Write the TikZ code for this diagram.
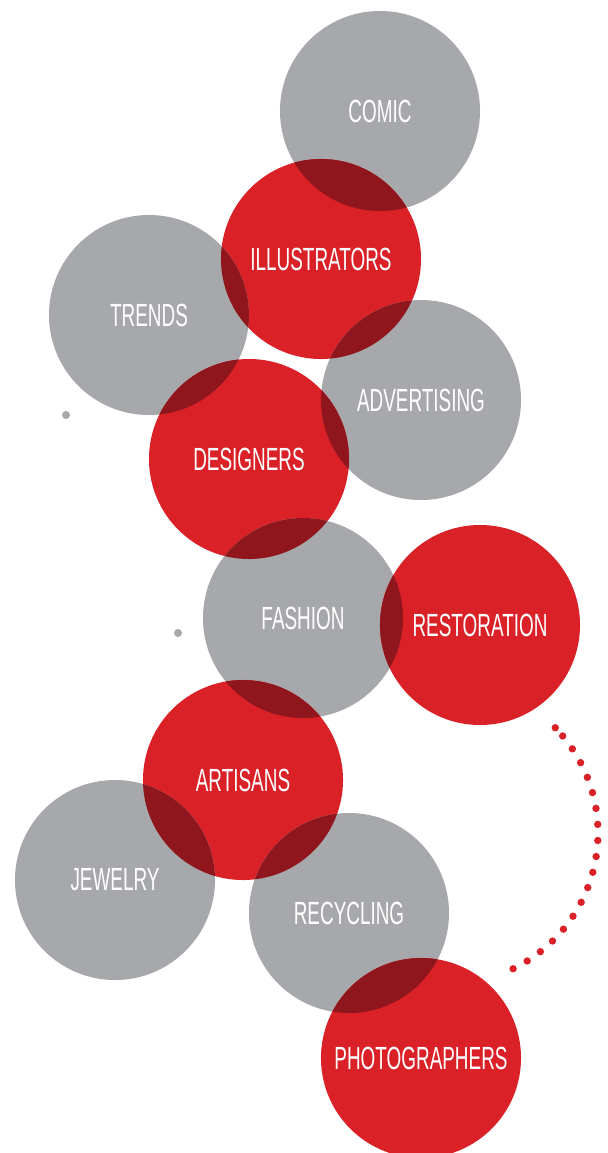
\documentclass[tikz,border=0pt]{standalone}
\usepackage{fontspec}
\setmainfont{Liberation Sans}[FakeStretch=0.59]

\definecolor{ballgray}{HTML}{A7A8AB}
\definecolor{ballred}{HTML}{DA2128}
\definecolor{ballmix}{HTML}{8F161C}

\newcommand{\mixballs}[2]{%
  \begin{scope}
    \clip (#1.center) circle (2.5cm);
    \fill[ballmix] (#2.center) circle (2.5cm);
  \end{scope}}

\begin{document}
\begin{tikzpicture}[x=0.025cm,y=-0.025cm]
    \tikzset{ball/.style= {circle, minimum size=5cm
    , inner sep=0pt
    , text=white
    , font=\fontsize{22.8}{26}\selectfont
      },
      grayball/.style={ball, fill=ballgray},
      redball/.style={ball, fill=ballred}
    }

\useasboundingbox (0,0) rectangle (607,1153);

\node [grayball] (comic) at (380,111) {COMIC};
\node [redball] (illustrators) at (321,259) {ILLUSTRATORS};
\node [grayball] (trends) at (149,315) {TRENDS};
\node [grayball] (advertising) at (421,400) {ADVERTISING};
\node [redball] (designers) at (249,459) {DESIGNERS};
\node [grayball] (fashion) at (303,618) {FASHION};
\node [redball] (restoration) at (480,625) {RESTORATION};
\node [redball] (artisans) at (243,780) {ARTISANS};
\node [grayball] (jewelry) at (115,880) {JEWELRY};
\node [grayball] (recycling) at (349,913) {RECYCLING};
\node [redball] (photographers) at (421,1058) {PHOTOGRAPHERS};

\mixballs{illustrators}{comic}
\mixballs{illustrators}{trends}
\mixballs{illustrators}{advertising}
\mixballs{designers}{trends}
\mixballs{designers}{advertising}
\mixballs{designers}{fashion}
\mixballs{restoration}{fashion}
\mixballs{artisans}{fashion}
\mixballs{artisans}{jewelry}
\mixballs{artisans}{recycling}
\mixballs{photographers}{recycling}

\fill[ballgray] (66,415) circle (4);
\fill[ballgray] (178,633) circle (4);

\coordinate (arcc) at (447,833);
\fill[ballred] (arcc) ++(-44.2:151) circle (3.7);
\foreach \i in {0,...,17}
  \fill[ballred] (arcc) ++(-40+6.12*\i:151) circle (3.7);
\end{tikzpicture}
\end{document}
